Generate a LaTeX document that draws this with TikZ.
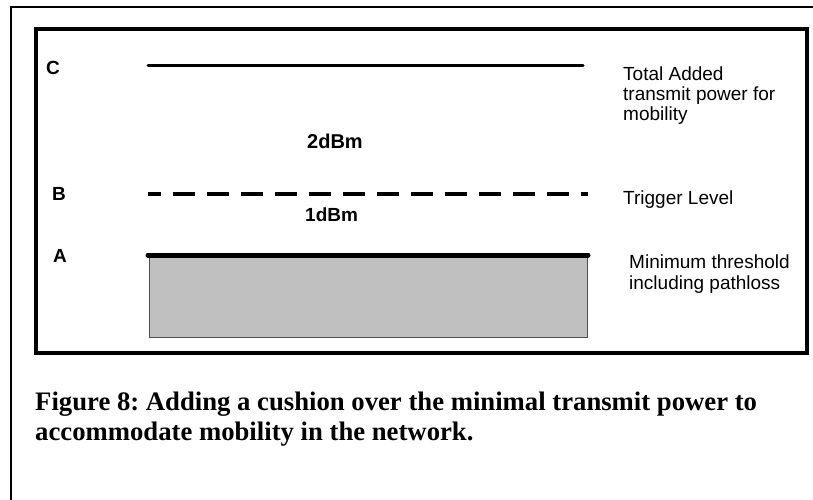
\documentclass[tikz,border=0pt]{standalone}
\usepackage{fontspec}
\setmainfont{Liberation Serif}
\setsansfont{Liberation Sans}
\begin{document}
\frenchspacing
\begin{tikzpicture}[x=1pt,y=-1pt,
  lbl/.style={font=\sffamily\fontsize{19}{20}\selectfont, inner sep=0pt, anchor=base west, align=left},
  blbl/.style={font=\sffamily\bfseries\fontsize{19}{18}\selectfont, inner sep=0pt, anchor=base west},
  captext/.style={font=\rmfamily\bfseries\fontsize{26.7}{30}\selectfont, inner sep=0pt, anchor=base west, align=left}]
\useasboundingbox (0,0) rectangle (813,500);
% outer frame (extends past the picture edge)
\draw[line width=1.5pt] (11,520) -- (11,7) -- (830,7);
% inner frame
\draw[line width=4pt] (36,29) rectangle (806.5,352.5);
% gray block
\draw[fill={rgb,255:red,192;green,192;blue,192}, draw={rgb,255:red,80;green,80;blue,80}, line width=0.8pt] (149,255) rectangle (587,337);
% level lines
\coordinate (c1) at (148,66); \coordinate (c2) at (583,66);
\coordinate (b1) at (148,194); \coordinate (b2) at (588,194);
\coordinate (a1) at (148,255); \coordinate (a2) at (588,255);
\draw[line width=3pt, line cap=round] (c1) -- (c2);
\draw[line width=4pt, dash pattern=on 22pt off 12pt, dash phase=9pt] (b1) -- (b2);
\draw[line width=5pt, line cap=round] (a1) -- (a2);
% left letters
\node[blbl] (lc) at (46,75) {C};
\node[blbl] (lb) at (52,200) {B};
\node[blbl] (la) at (53,262) {A};
% middle labels
\node[blbl, font=\sffamily\bfseries\fontsize{20}{18}\selectfont] (l2) at (307,148) {2dBm};
\node[blbl] (l1) at (305,221) {1dBm};
% right labels (base = last line)
\node[lbl] (tc) at (623,121) {Total Added\\transmit power for\\mobility};
\node[lbl] (tb) at (623,204) {Trigger Level};
\node[lbl, font=\sffamily\fontsize{19}{21}\selectfont] (ta) at (629,289) {Minimum threshold\\including pathloss};
% caption
\node[captext] (caption) at (35,440) {Figure 8: Adding a cushion over the minimal transmit power to\\accommodate mobility in the network.};
\end{tikzpicture}
\end{document}
